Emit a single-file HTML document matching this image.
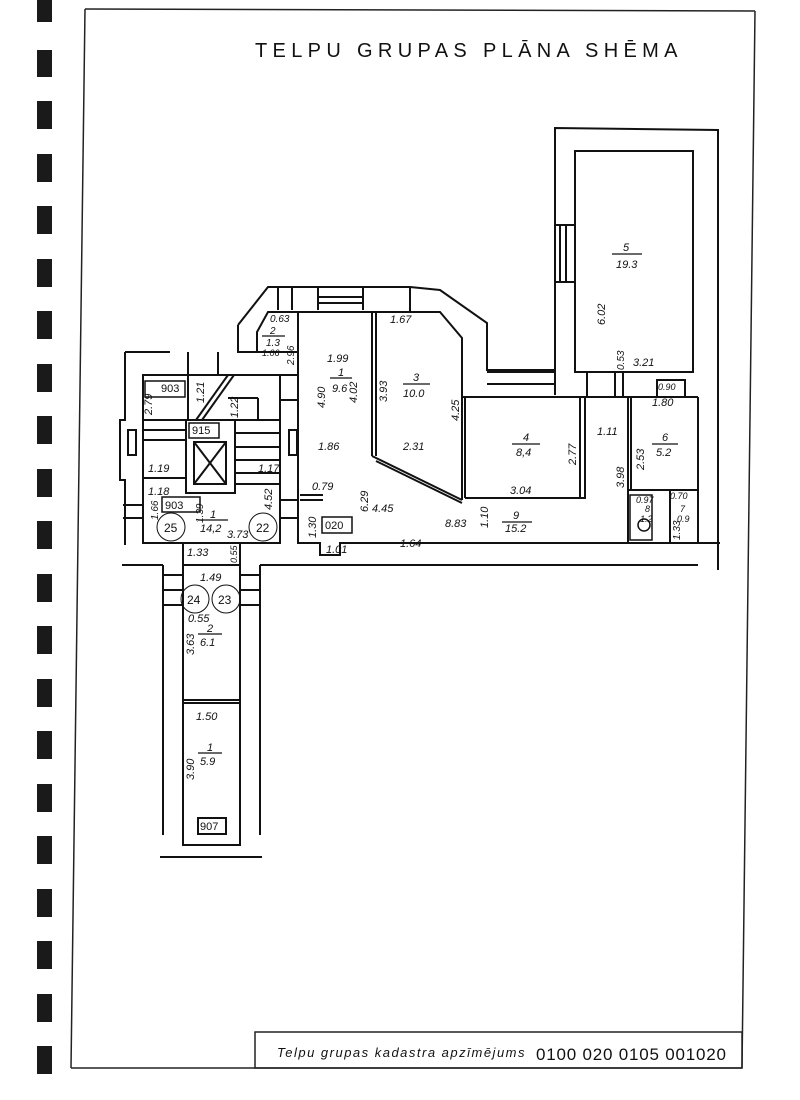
<!DOCTYPE html>
<html><head><meta charset="utf-8"><style>
html,body{margin:0;padding:0;background:#fff;width:800px;height:1100px;overflow:hidden}
svg{display:block}
text{font-family:"Liberation Sans",sans-serif;font-style:italic;fill:#111}
</style></head><body>
<svg width="800" height="1100" viewBox="0 0 800 1100" xmlns="http://www.w3.org/2000/svg">
<rect width="800" height="1100" fill="#fff"/>
<g fill="#1a1a1a">
<rect x="37" y="0" width="15" height="22"/>
<rect x="37" y="50" width="15" height="27"/>
<rect x="37" y="101" width="15" height="28"/>
<rect x="37" y="154" width="15" height="28"/>
<rect x="37" y="206" width="15" height="28"/>
<rect x="37" y="259" width="15" height="28"/>
<rect x="37" y="311" width="15" height="28"/>
<rect x="37" y="364" width="15" height="28"/>
<rect x="37" y="416" width="15" height="28"/>
<rect x="37" y="469" width="15" height="28"/>
<rect x="37" y="521" width="15" height="28"/>
<rect x="37" y="574" width="15" height="28"/>
<rect x="37" y="626" width="15" height="28"/>
<rect x="37" y="679" width="15" height="28"/>
<rect x="37" y="731" width="15" height="28"/>
<rect x="37" y="784" width="15" height="28"/>
<rect x="37" y="836" width="15" height="28"/>
<rect x="37" y="889" width="15" height="28"/>
<rect x="37" y="941" width="15" height="28"/>
<rect x="37" y="994" width="15" height="28"/>
<rect x="37" y="1046" width="15" height="28"/>
</g>
<g stroke="#222" stroke-width="1.5" fill="none">
<line x1="85" y1="9" x2="755" y2="11"/>
<line x1="85" y1="9" x2="71" y2="1068"/>
<line x1="755" y1="11" x2="742" y2="1068"/>
<line x1="71" y1="1068" x2="742" y2="1068"/>
<rect x="255" y="1032" width="487" height="36"/>
</g>
<text x="255" y="57" font-size="20" style="font-style:normal" letter-spacing="1.5" textLength="424">TELPU  GRUPAS  PLĀNA  SHĒMA</text>
<text x="277" y="1057" font-size="13" letter-spacing="0.5" textLength="248">Telpu  grupas kadastra  apzīmējums</text>
<text x="536" y="1060" font-size="17" style="font-style:normal" textLength="190">0100 020 0105 001020</text>

<g stroke="#111" stroke-width="2" fill="none">
<polyline points="555,395 555,128 718,130 718,570"/>
<rect x="575" y="151" width="118" height="221"/>
<line x1="555" y1="225" x2="575" y2="225"/><line x1="555" y1="282" x2="575" y2="282"/>
<line x1="560" y1="225" x2="560" y2="282"/><line x1="566" y1="225" x2="566" y2="282"/>
<polyline points="238,325 268,287 410,287 440,290 487,323 487,370 555,370"/>
<polyline points="238,325 238,352 298,352"/>
<line x1="487" y1="384" x2="555" y2="384"/><line x1="487" y1="372" x2="555" y2="372"/>
<line x1="278" y1="287" x2="278" y2="310"/><line x1="292" y1="287" x2="292" y2="310"/>
<line x1="318" y1="287" x2="318" y2="310"/><line x1="363" y1="287" x2="363" y2="310"/>
<line x1="318" y1="297" x2="363" y2="297"/><line x1="318" y1="303" x2="363" y2="303"/>
<line x1="410" y1="287" x2="410" y2="311"/>
<polyline points="257,352 257,332 268,312 440,312 462,338 462,500"/>
<line x1="298" y1="312" x2="298" y2="352"/>
<line x1="298" y1="312" x2="298" y2="470"/>
<line x1="372" y1="312" x2="372" y2="456"/>
<line x1="376" y1="312" x2="376" y2="456"/>
<line x1="372" y1="456" x2="462" y2="500"/>
<line x1="376" y1="461" x2="462" y2="503"/>
<polyline points="462,397 585,397 585,498 465,498"/>
<line x1="465" y1="397" x2="465" y2="498"/>
<line x1="580" y1="397" x2="580" y2="498"/>
<line x1="585" y1="397" x2="698" y2="397"/>
<line x1="698" y1="397" x2="698" y2="543"/>
<line x1="628" y1="397" x2="628" y2="543"/>
<line x1="631" y1="397" x2="631" y2="490"/>
<line x1="628" y1="490" x2="698" y2="490"/>
<line x1="670" y1="490" x2="670" y2="543"/>
<rect x="657" y="380" width="28" height="17"/>
<line x1="587" y1="372" x2="587" y2="397"/><line x1="615" y1="372" x2="615" y2="397"/><line x1="623" y1="372" x2="623" y2="397"/>
<polyline points="298,470 298,543 320,543 320,555 340,555 340,543 720,543"/>
<line x1="300" y1="495" x2="323" y2="495"/>
<line x1="300" y1="500" x2="323" y2="500"/>
<line x1="122" y1="565" x2="163" y2="565"/>
<line x1="260" y1="565" x2="698" y2="565"/>
<rect x="143" y="375" width="137" height="168"/>
<polyline points="125,352 125,420 120,420 120,480 125,480 125,545"/>
<line x1="125" y1="352" x2="170" y2="352"/>
<line x1="188" y1="352" x2="188" y2="375"/><line x1="218" y1="352" x2="218" y2="375"/>
<line x1="188" y1="375" x2="188" y2="420"/>
<line x1="228" y1="375" x2="196" y2="420"/><line x1="234" y1="375" x2="202" y2="420"/>
<line x1="228" y1="398" x2="258" y2="398"/><line x1="258" y1="398" x2="258" y2="420"/>
<line x1="143" y1="420" x2="280" y2="420"/><line x1="143" y1="430" x2="186" y2="430"/>
<line x1="143" y1="440" x2="186" y2="440"/><line x1="143" y1="478" x2="186" y2="478"/>
<rect x="186" y="420" width="49" height="73"/>
<rect x="194" y="442" width="32" height="42"/>
<line x1="194" y1="442" x2="226" y2="484"/><line x1="226" y1="442" x2="194" y2="484"/>
<line x1="235" y1="433" x2="280" y2="433"/><line x1="235" y1="447" x2="280" y2="447"/>
<line x1="235" y1="460" x2="280" y2="460"/><line x1="235" y1="473" x2="280" y2="473"/><line x1="235" y1="484" x2="280" y2="484"/>
<rect x="128" y="430" width="8" height="25"/><rect x="289" y="430" width="8" height="25"/>
<line x1="280" y1="400" x2="298" y2="400"/>
<line x1="280" y1="375" x2="298" y2="375"/>
<line x1="123" y1="505" x2="143" y2="505"/><line x1="123" y1="518" x2="143" y2="518"/>
<line x1="280" y1="500" x2="298" y2="500"/><line x1="280" y1="518" x2="298" y2="518"/>
<line x1="183" y1="543" x2="183" y2="565"/><line x1="240" y1="543" x2="240" y2="565"/>
<rect x="183" y="565" width="57" height="280"/>
<line x1="183" y1="700" x2="240" y2="700"/><line x1="183" y1="703" x2="240" y2="703"/>
<line x1="163" y1="565" x2="163" y2="835"/><line x1="260" y1="565" x2="260" y2="835"/>
<line x1="163" y1="575" x2="183" y2="575"/><line x1="163" y1="590" x2="183" y2="590"/><line x1="163" y1="605" x2="183" y2="605"/>
<line x1="240" y1="575" x2="260" y2="575"/><line x1="240" y1="590" x2="260" y2="590"/><line x1="240" y1="605" x2="260" y2="605"/>
<line x1="160" y1="857" x2="262" y2="857"/>
<rect x="198" y="818" width="28" height="16"/>
<rect x="145" y="381" width="40" height="16" stroke-width="1.5"/>
<rect x="189" y="423" width="30" height="15" stroke-width="1.5"/>
<rect x="162" y="497" width="38" height="15" stroke-width="1.5"/>
<rect x="322" y="517" width="30" height="16" stroke-width="1.5"/>
<circle cx="171" cy="527" r="14" stroke-width="1"/><circle cx="263" cy="527" r="14" stroke-width="1"/>
<circle cx="195" cy="599" r="14" stroke-width="1"/><circle cx="226" cy="599" r="14" stroke-width="1"/>
<rect x="630" y="495" width="22" height="45" stroke-width="1.5"/>
<circle cx="644" cy="525" r="6" stroke-width="1.5"/>
</g>
<g stroke="#111" stroke-width="1.2">
<line x1="612" y1="254" x2="642" y2="254"/>
<line x1="330" y1="378" x2="352" y2="378"/>
<line x1="403" y1="384" x2="430" y2="384"/>
<line x1="512" y1="444" x2="540" y2="444"/>
<line x1="652" y1="444" x2="678" y2="444"/>
<line x1="502" y1="522" x2="532" y2="522"/>
<line x1="198" y1="520" x2="228" y2="520"/>
<line x1="198" y1="634" x2="222" y2="634"/>
<line x1="198" y1="753" x2="222" y2="753"/>
<line x1="262" y1="336" x2="285" y2="336"/>
</g>
<g font-size="11">
<text x="161" y="392" style="font-style:normal">903</text>
<text x="192" y="434" style="font-style:normal">915</text>
<text x="165" y="509" style="font-style:normal">903</text>
<text x="325" y="529" style="font-style:normal">020</text>
<text x="200" y="830" style="font-style:normal">907</text>
<text x="164" y="532" style="font-style:normal" font-size="12">25</text>
<text x="256" y="532" style="font-style:normal" font-size="12">22</text>
<text x="187" y="604" style="font-style:normal" font-size="12">24</text>
<text x="218" y="604" style="font-style:normal" font-size="12">23</text>
<text x="623" y="251">5</text><text x="616" y="268">19.3</text>
<text x="338" y="376">1</text><text x="332" y="392">9.6</text>
<text x="413" y="381">3</text><text x="403" y="397">10.0</text>
<text x="523" y="441">4</text><text x="516" y="456">8,4</text>
<text x="662" y="441">6</text><text x="656" y="456">5.2</text>
<text x="513" y="519">9</text><text x="505" y="532">15.2</text>
<text x="210" y="518">1</text><text x="200" y="532">14,2</text>
<text x="207" y="632">2</text><text x="200" y="646">6.1</text>
<text x="207" y="751">1</text><text x="200" y="765">5.9</text>
<text x="327" y="362">1.99</text><text x="390" y="323">1.67</text>
<text x="318" y="450">1.86</text><text x="403" y="450">2.31</text>
<text x="372" y="512">4.45</text><text x="445" y="527">8.83</text>
<text x="400" y="547">1.64</text><text x="510" y="494">3.04</text>
<text x="597" y="435">1.11</text><text x="652" y="406">1.80</text>
<text x="633" y="366">3.21</text><text x="148" y="472">1.19</text>
<text x="148" y="495">1.18</text><text x="258" y="472">1.17</text>
<text x="227" y="538">3.73</text><text x="187" y="556">1.33</text>
<text x="200" y="581">1.49</text><text x="188" y="622">0.55</text>
<text x="196" y="720">1.50</text>
<text x="270" y="322" font-size="10">0.63</text>
<text x="270" y="334" font-size="10">2</text>
<text x="266" y="346" font-size="10">1.3</text>
<text x="262" y="356" font-size="9">1.06</text>
<text x="312" y="490">0.79</text>
<text x="326" y="553">1.01</text><text x="658" y="390" font-size="9">0.90</text>
<text x="636" y="503" font-size="9">0.97</text><text x="670" y="499" font-size="9">0.70</text>
<text x="680" y="512" font-size="9">7</text><text x="677" y="522" font-size="9">0.9</text>
<text x="645" y="512" font-size="9">8</text><text x="640" y="522" font-size="9">1.2</text>
</g>
<g font-size="11">
<text transform="translate(325,408) rotate(-90)">4.90</text>
<text transform="translate(294,365) rotate(-90)" font-size="10">2.96</text>
<text transform="translate(357,403) rotate(-90)">4.02</text>
<text transform="translate(387,402) rotate(-90)">3.93</text>
<text transform="translate(459,421) rotate(-90)">4.25</text>
<text transform="translate(605,325) rotate(-90)">6.02</text>
<text transform="translate(576,465) rotate(-90)">2.77</text>
<text transform="translate(624,488) rotate(-90)">3.98</text>
<text transform="translate(644,470) rotate(-90)">2.53</text>
<text transform="translate(152,415) rotate(-90)">2.79</text>
<text transform="translate(204,403) rotate(-90)">1.21</text>
<text transform="translate(238,418) rotate(-90)">1.22</text>
<text transform="translate(272,510) rotate(-90)">4.52</text>
<text transform="translate(368,512) rotate(-90)">6.29</text>
<text transform="translate(316,538) rotate(-90)">1.30</text>
<text transform="translate(194,655) rotate(-90)">3.63</text>
<text transform="translate(194,780) rotate(-90)">3.90</text>
<text transform="translate(624,370) rotate(-90)" font-size="10">0.53</text>
<text transform="translate(488,528) rotate(-90)">1.10</text>
<text transform="translate(237,563) rotate(-90)" font-size="9">0.55</text>
<text transform="translate(203,523) rotate(-90)" font-size="10">1.39</text>
<text transform="translate(158,520) rotate(-90)" font-size="10">1.66</text>
<text transform="translate(680,540) rotate(-90)" font-size="10">1.33</text>
</g>
</svg>
</body></html>
